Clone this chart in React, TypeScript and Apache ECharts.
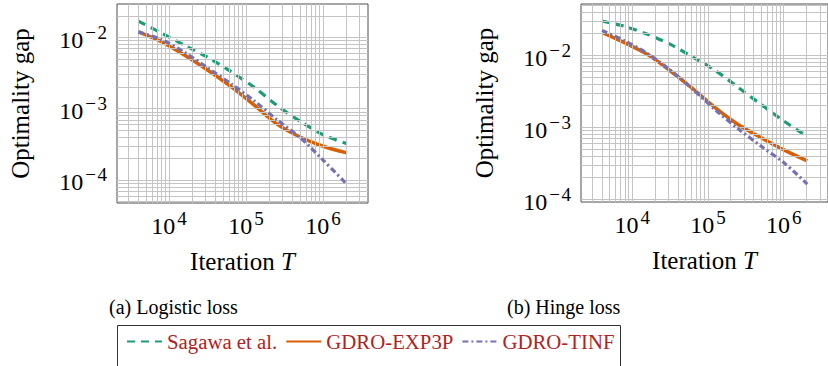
import { useEffect, useRef } from "react";
import * as echarts from "echarts";

// ---- data ----
const iterations = [4000, 8000, 16000, 32000, 64000, 128000, 256000, 512000, 1024000, 2048000];
const logisticSagawa = [0.017, 0.0115, 0.00776, 0.00525, 0.00331, 0.002, 0.0011, 0.000661, 0.000427, 0.000324];
const logisticExp3p = [0.012, 0.00871, 0.00562, 0.00347, 0.00204, 0.00112, 0.000603, 0.000398, 0.000295, 0.00024];
const logisticTinf = [0.012, 0.00933, 0.00617, 0.00372, 0.00224, 0.00129, 0.000692, 0.000389, 0.000186, 0.0000871];
const hingeSagawa = [0.0298, 0.0251, 0.0195, 0.0141, 0.00933, 0.00603, 0.00351, 0.00204, 0.0012, 0.000741];
const hingeExp3p = [0.0207, 0.0148, 0.0102, 0.00603, 0.00339, 0.00182, 0.00107, 0.000708, 0.000479, 0.000339];
const hingeTinf = [0.0221, 0.0158, 0.0105, 0.00617, 0.00331, 0.0017, 0.000933, 0.000537, 0.000316, 0.000162];

const seriesNames = ["Sagawa et al.", "GDRO-EXP3P", "GDRO-TINF"];
const panelCaptions = ["(a) Logistic loss", "(b) Hinge loss"];
const xAxisTitle = "Iteration {i|T}";
const yAxisTitle = "Optimality gap";

// axis ranges (log10 exponents)
const xRange = [3.325, 6.585];
const yRanges = [
  [-4.323, -1.53],
  [-4.04, -1.289],
];
const xDecades = [3, 4, 5, 6];
const yDecades = [-5, -4, -3, -2];

const FONT = "'Liberation Serif', 'Times New Roman', serif";
const COLORS = ["#1b9e77", "#d95f02", "#7570b3"];
const GRID_COLOR = "#c4c4c4";

export default function App() {
  const ref = useRef<HTMLDivElement>(null);

  useEffect(() => {
    if (!ref.current) return;
    const chart = echarts.init(ref.current, null, { renderer: "svg" });

    const grids = [
      { left: 117, top: 4, width: 251, height: 199 },
      { left: 581, top: 4, width: 250, height: 198 },
    ];

    const gridLines = (gi: number) => {
      const items: any[] = [];
      const [xlo, xhi] = xRange;
      const [ylo, yhi] = yRanges[gi];
      const xMin = Math.pow(10, xlo);
      const xMax = Math.pow(10, xhi);
      const yMin = Math.pow(10, ylo);
      const yMax = Math.pow(10, yhi);
      xDecades.forEach((d) => {
        for (let m = 1; m <= 9; m++) {
          const v = m * Math.pow(10, d);
          const l = Math.log10(v);
          if (l > xlo + 0.002 && l < xhi - 0.002) items.push([{ coord: [v, yMin] }, { coord: [v, yMax] }]);
        }
      });
      yDecades.forEach((d) => {
        for (let m = 1; m <= 9; m++) {
          const v = m * Math.pow(10, d);
          const l = Math.log10(v);
          if (l > ylo + 0.002 && l < yhi - 0.002) items.push([{ coord: [xMin, v] }, { coord: [xMax, v] }]);
        }
      });
      return items;
    };

    const tickFormatter = (v: number) => {
      const e = Math.round(Math.log10(v));
      const s = e < 0 ? "\u2212\u200a" + Math.abs(e) : String(e);
      return "{b|10}{s|" + s + "}";
    };
    const tickRich = {
      b: { fontFamily: FONT, fontSize: 24, color: "#000", lineHeight: 29, verticalAlign: "bottom" },
      s: { fontFamily: FONT, fontSize: 19, color: "#000", lineHeight: 19, verticalAlign: "top", padding: [0, 0, 0, 2] },
    };

    const xAxes = grids.map((_, gi) => ({
      type: "log",
      logBase: 10,
      gridIndex: gi,
      min: Math.pow(10, xRange[0]),
      max: Math.pow(10, xRange[1]),
      axisLine: { show: false },
      axisTick: { show: true, inside: true, length: 6, lineStyle: { color: "#4d4d4d" } },
      splitLine: { show: false },
      axisLabel: {
        formatter: tickFormatter,
        rich: tickRich,
        margin: 6,
        showMinLabel: false,
        showMaxLabel: false,
      },
      name: xAxisTitle,
      nameLocation: "middle",
      nameGap: 46,
      nameTextStyle: {
        fontFamily: FONT,
        fontSize: 25,
        color: "#000",
        rich: { i: { fontFamily: FONT, fontSize: 25, fontStyle: "italic", color: "#000" } },
      },
    }));

    const yAxes = grids.map((_, gi) => ({
      type: "log",
      logBase: 10,
      gridIndex: gi,
      min: Math.pow(10, yRanges[gi][0]),
      max: Math.pow(10, yRanges[gi][1]),
      axisLine: { show: false },
      axisTick: { show: true, inside: true, length: 6, lineStyle: { color: "#4d4d4d" } },
      splitLine: { show: false },
      axisLabel: {
        formatter: tickFormatter,
        rich: tickRich,
        margin: 10,
        showMinLabel: false,
        showMaxLabel: false,
      },
      name: yAxisTitle,
      nameLocation: "middle",
      nameGap: 84,
      nameTextStyle: { fontFamily: FONT, fontSize: 25, color: "#000" },
    }));

    const panels = [
      [logisticSagawa, logisticExp3p, logisticTinf],
      [hingeSagawa, hingeExp3p, hingeTinf],
    ];
    const lineStyles: any[] = [
      { color: COLORS[0], width: 3.2, type: [8, 6] },
      { color: COLORS[1], width: 3.5, type: "solid" },
      { color: COLORS[2], width: 3.2, type: [6, 3, 2, 3] },
    ];

    const series: any[] = [];
    grids.forEach((_, gi) => {
      series.push({
        type: "line",
        xAxisIndex: gi,
        yAxisIndex: gi,
        data: [],
        silent: true,
        z: 1,
        markLine: {
          silent: true,
          symbol: ["none", "none"],
          label: { show: false },
          emphasis: { disabled: true },
          lineStyle: { color: GRID_COLOR, width: 1, type: "solid" },
          data: gridLines(gi),
        },
      });
      panels[gi].forEach((vals, si) => {
        series.push({
          name: seriesNames[si],
          type: "line",
          xAxisIndex: gi,
          yAxisIndex: gi,
          data: iterations.map((t, k) => [t, vals[k]]),
          symbol: "none",
          smooth: 0.3,
          z: 3 + si,
          lineStyle: lineStyles[si],
          itemStyle: { color: COLORS[si] },
        });
      });
    });

    chart.setOption({
      animation: false,
      backgroundColor: "#fff",
      grid: grids.map((g) => ({
        ...g,
        show: true,
        borderColor: "#4d4d4d",
        borderWidth: 1,
        backgroundColor: "transparent",
        containLabel: false,
      })),
      xAxis: xAxes,
      yAxis: yAxes,
      legend: {
        data: seriesNames,
        left: 126,
        top: 331,
        itemWidth: 35,
        itemHeight: 12,
        itemGap: 8,
        padding: 0,
        itemStyle: { opacity: 0 },
        textStyle: { fontFamily: FONT, fontSize: 20.8, color: "#b22222" },
      },
      graphic: [
        {
          type: "rect",
          shape: { x: 117.5, y: 325.5, width: 503, height: 60 },
          style: { fill: "none", stroke: "#333", lineWidth: 1 },
          silent: true,
        },
        {
          type: "text",
          x: 109,
          y: 307,
          style: { text: panelCaptions[0], fontFamily: FONT, fontSize: 20, fill: "#000", verticalAlign: "middle" },
          silent: true,
        },
        {
          type: "text",
          x: 507,
          y: 307,
          style: { text: panelCaptions[1], fontFamily: FONT, fontSize: 20, fill: "#000", verticalAlign: "middle" },
          silent: true,
        },
      ],
      series,
    });

    return () => chart.dispose();
  }, []);

  return (
    <div
      ref={ref}
      style={{ position: "absolute", left: 0, top: 0, width: 828, height: 366, overflow: "hidden" }}
    />
  );
}
